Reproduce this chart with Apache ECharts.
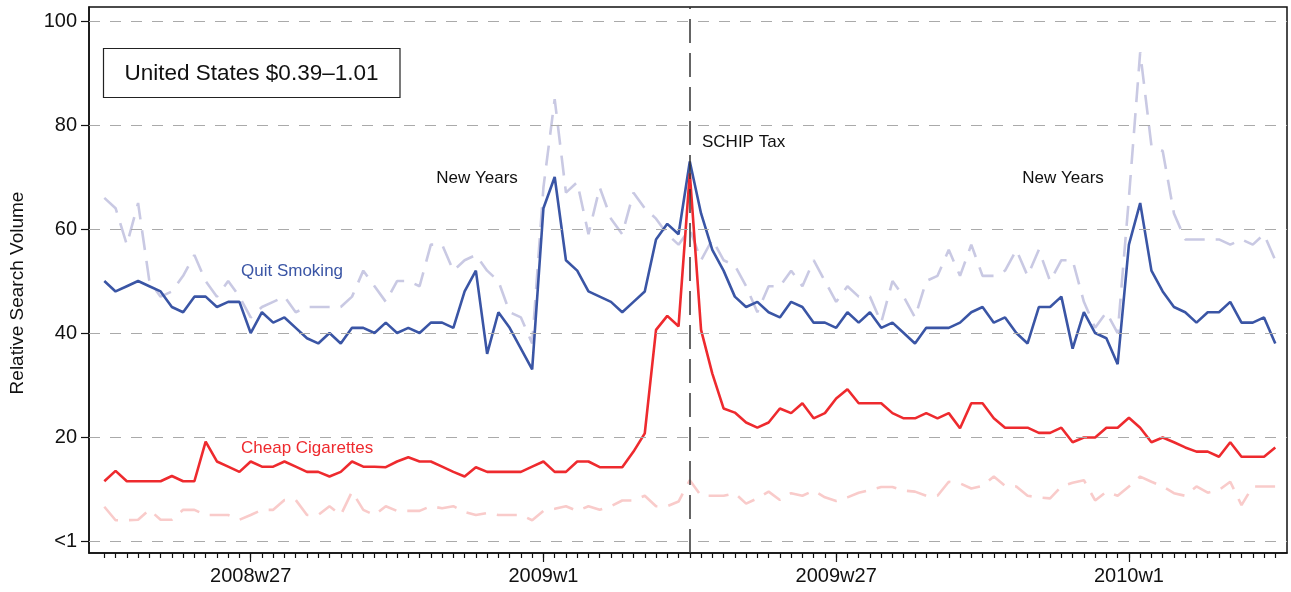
<!DOCTYPE html>
<html><head><meta charset="utf-8">
<script src="https://cdn.jsdelivr.net/npm/echarts@6/dist/echarts.min.js"></script>
<style>html,body{margin:0;padding:0;background:#fff}#c{width:1291px;height:592px}</style>
</head><body><div id="c"></div>
<script>
// Weekly categories 2008w14 .. 2010w14 (52 weeks per year)
const weekLabels = [];
(function(){ let yr = 2008, wk = 14; for (let k = 0; k < 105; k++) { weekLabels.push(yr + 'w' + wk); wk++; if (wk > 52) { wk = 1; yr++; } } })();
const tickLabels = ['2008w27', '2009w1', '2009w27', '2010w1'];
const yTickValues = [0, 20, 40, 60, 80, 100];
const schipWeek = '2009w14';

const quitSmoking = [50,48,49,50,49,48,45,44,47,47,45,46,46,40,44,42,43,41,39,38,40,38,41,41,40,42,
  40,41,40,42,42,41,48,52,36,44,41,37,33,64,70,54,52,48,47,46,44,46,48,58,61,59,73,63,56,52,
  47,45,46,44,43,46,45,42,42,41,44,42,44,41,42,40,38,41,41,41,42,44,45,42,43,40,38,45,45,47,
  37,44,40,39,34,57,65,52,48,45,44,42,44,44,46,42,42,43,38];
const quitSmokingBase = [66,64,57,65,50,47,48,51,55,50,47,50,47,43,45,46,47,44,45,45,45,45,47,52,49,46,
  50,50,49,57,57,52,54,55,52,50,44,43,38,68,85,67,69,59,68,62,59,67,64,62,59,57,60,54,58,54,
  53,49,44,49,49,52,49,54,50,46,49,47,47,42,50,47,43,50,51,56,51,57,51,51,52,56,51,56,50,54,
  54,46,41,44,40,66,94,76,75,63,58,58,58,58,57,58,57,59,54];
const cheapCigs = [11.5,13.5,11.5,11.5,11.5,11.5,12.5,11.5,11.5,19.1,15.3,14.3,13.3,15.3,14.3,14.3,15.3,14.3,13.3,13.3,12.4,13.3,15.3,14.3,14.3,14.2,
  15.3,16.1,15.3,15.3,14.3,13.3,12.4,14.2,13.3,13.3,13.3,13.3,14.3,15.3,13.3,13.3,15.3,15.3,14.2,14.2,14.2,17.2,20.7,40.6,43.3,41.3,70.7,40.6,32.2,25.5,
  24.7,22.8,21.8,22.8,25.5,24.6,26.5,23.6,24.6,27.4,29.2,26.5,26.5,26.5,24.6,23.6,23.6,24.6,23.6,24.6,21.7,26.5,26.5,23.6,21.8,21.8,21.8,20.8,20.8,21.8,
  19.0,19.9,19.9,21.8,21.8,23.7,21.8,19.0,19.9,19.0,18.0,17.2,17.2,16.2,19.0,16.2,16.2,16.2,18.0];
const cheapCigsBase = [6.6,4.0,4.0,4.1,6.0,4.1,4.1,6.0,6.0,5.0,5.0,5.0,4.1,5.0,6.0,6.0,7.9,7.9,5.0,5.0,6.7,5.0,9.5,6.0,5.0,6.7,
  5.8,5.8,5.8,6.7,6.3,6.7,5.6,5.0,5.4,5.0,5.0,5.0,4.0,5.8,6.2,6.7,5.8,6.7,6.0,6.7,7.8,7.8,8.7,6.7,6.7,7.6,11.7,8.7,8.7,8.7,
  9.2,7.2,8.2,9.5,7.9,9.2,8.7,9.7,8.4,7.7,8.4,9.3,9.8,10.4,10.4,9.7,9.5,8.7,8.7,11.4,11.1,10.1,10.6,12.4,10.6,10.5,8.7,8.4,8.2,10.5,
  11.2,11.7,7.8,9.5,8.7,10.5,12.4,11.4,10.5,9.2,8.7,10.5,9.3,9.8,11.4,6.9,10.5,10.5,10.5];

const pairs = arr => arr.map((v, i) => [i, v]);
const allWeeks = weekLabels.map((_, i) => i);
const labelIdx = tickLabels.map(t => weekLabels.indexOf(t));
const FONT = '"Liberation Sans", Arial, Helvetica, sans-serif';

const chart = echarts.init(document.getElementById('c'), null, {renderer: 'canvas'});
chart.setOption({
  animation: false,
  backgroundColor: '#fff',
  grid: {left: 89, right: 4, top: 7, bottom: 39, show: true, borderColor: '#111', borderWidth: 1.5, backgroundColor: 'transparent'},
  xAxis: [{
    type: 'value', min: -1.36, max: 105.04, position: 'bottom',
    axisLine: {show: true, onZero: false, lineStyle: {color: '#111', width: 1.5}},
    axisTick: {show: true, inside: false, customValues: allWeeks, length: 5, lineStyle: {color: '#111', width: 1.2}},
    axisLabel: {show: true, customValues: labelIdx, formatter: v => weekLabels[Math.round(v)], fontSize: 20, color: '#111', fontFamily: FONT, margin: 13},
    splitLine: {show: false}
  }, {
    type: 'value', min: -1.36, max: 105.04, position: 'bottom', offset: 0,
    axisLine: {show: false, onZero: false},
    axisTick: {show: true, inside: false, customValues: labelIdx, length: 9, lineStyle: {color: '#111', width: 1.2}},
    axisLabel: {show: false}, splitLine: {show: false}
  }],
  yAxis: {
    type: 'value', min: -2.3, max: 102.7,
    axisLine: {show: true, onZero: false, lineStyle: {color: '#111', width: 1.5}},
    axisTick: {show: true, customValues: yTickValues, length: 8, lineStyle: {color: '#111', width: 1.2}},
    axisLabel: {show: true, customValues: yTickValues, formatter: v => v === 0 ? '<1' : String(v), fontSize: 20, color: '#111', fontFamily: FONT, margin: 12},
    splitLine: {show: false}
  },
  graphic: [
    {type: 'rect', shape: {x: 103.5, y: 48.5, width: 296.5, height: 49}, style: {fill: '#fff', stroke: '#222', lineWidth: 1.2}, z: 50},
    {type: 'text', x: 251.5, y: 74, style: {text: 'United States $0.39\u20131.01', font: '22.5px ' + FONT, fill: '#111', align: 'center', verticalAlign: 'middle'}, z: 51},
    {type: 'text', x: 477, y: 178, style: {text: 'New Years', font: '17px ' + FONT, fill: '#111', align: 'center', verticalAlign: 'middle'}, z: 51},
    {type: 'text', x: 1063, y: 178, style: {text: 'New Years', font: '17px ' + FONT, fill: '#111', align: 'center', verticalAlign: 'middle'}, z: 51},
    {type: 'text', x: 702, y: 142, style: {text: 'SCHIP Tax', font: '17px ' + FONT, fill: '#111', align: 'left', verticalAlign: 'middle'}, z: 51},
    {type: 'text', x: 241, y: 271, style: {text: 'Quit Smoking', font: '17px ' + FONT, fill: '#3a55a5', align: 'left', verticalAlign: 'middle'}, z: 51},
    {type: 'text', x: 241, y: 448, style: {text: 'Cheap Cigarettes', font: '17px ' + FONT, fill: '#ee2a2e', align: 'left', verticalAlign: 'middle'}, z: 51},
    {type: 'text', x: 18, y: 293, rotation: Math.PI / 2, style: {text: 'Relative Search Volume', font: '19px ' + FONT, fill: '#111', align: 'center', verticalAlign: 'middle'}, z: 51}
  ],
  series: [
    {name: 'Quit Smoking baseline', type: 'line', data: pairs(quitSmokingBase), symbol: 'none', z: 2,
     lineStyle: {color: '#c9c9e3', width: 2.6, type: [20, 11]},
     markLine: {silent: true, symbol: 'none', label: {show: false},
       lineStyle: {color: '#aaaaaa', width: 1.2, type: [11, 10]},
       data: yTickValues.map(v => ({yAxis: v}))}},
    {name: 'Cheap Cigarettes baseline', type: 'line', data: pairs(cheapCigsBase), symbol: 'none', z: 2,
     lineStyle: {color: '#f9cbca', width: 2.6, type: [20, 11]}},
    {name: 'Quit Smoking', type: 'line', data: pairs(quitSmoking), symbol: 'none', z: 3,
     lineStyle: {color: '#3a55a5', width: 2.6},
     markLine: {silent: true, symbol: 'none', label: {show: false},
       lineStyle: {color: '#333', width: 1.5, type: [24, 10]},
       data: [{xAxis: weekLabels.indexOf(schipWeek)}]}},
    {name: 'Cheap Cigarettes', type: 'line', data: pairs(cheapCigs), symbol: 'none', z: 4,
     lineStyle: {color: '#ee2a2e', width: 2.6}}
  ]
});
</script></body></html>
